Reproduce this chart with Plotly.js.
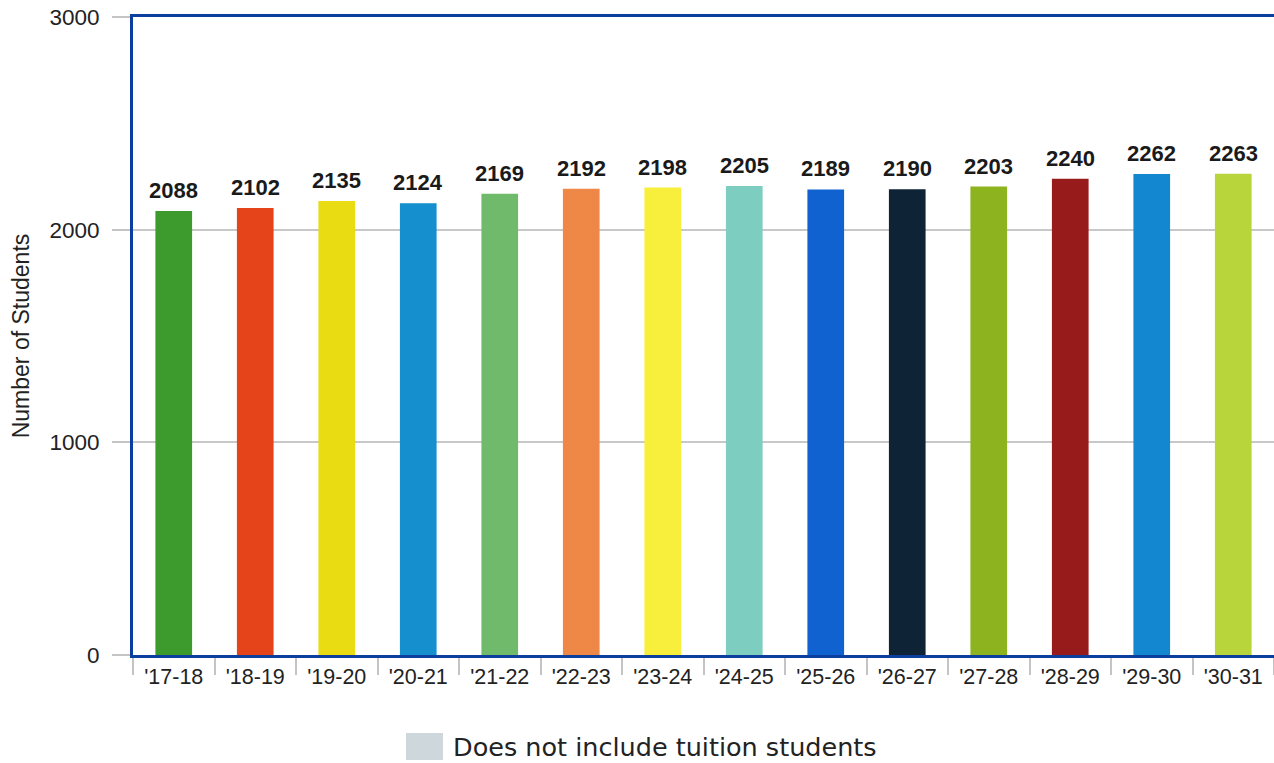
<!DOCTYPE html>
<html>
<head>
<meta charset="utf-8">
<script src="https://cdn.plot.ly/plotly-3.0.1.min.js"></script>
<style>
html,body{margin:0;padding:0;overflow:hidden;background:#fff;}
#chart{width:1274px;height:763px;}
</style>
</head>
<body>
<div id="chart"></div>
<script>
const years = ["'17-18","'18-19","'19-20","'20-21","'21-22","'22-23","'23-24","'24-25","'25-26","'26-27","'27-28","'28-29","'29-30","'30-31"];
const students = [2088,2102,2135,2124,2169,2192,2198,2205,2189,2190,2203,2240,2262,2263];
const barColors = ["#3d9a2d","#e5441b","#eadc12","#168fcf","#6fbb6b","#ef8747","#f8ef3c","#7dcdc1","#0f62cf","#0f2337","#8db41f","#971b1a","#1387cf","#b9d53c"];
const legendLabel = "Does not include tuition students";
const yTicks = [0, 1000, 2000, 3000];

const traces = [
  {
    type: 'bar',
    x: years,
    y: students,
    marker: {color: barColors},
    width: 0.45,
    showlegend: false,
    hoverinfo: 'x+y'
  }
];

const valueLabels = years.map((c, i) => ({
  x: c, y: students[i], xref: 'x', yref: 'y',
  text: String(students[i]),
  showarrow: false, yanchor: 'bottom', yshift: 6,
  font: {family: 'Liberation Sans, Arial, sans-serif', size: 22, color: '#1a1a1a', weight: 'bold'}
}));

const layout = {
  width: 1274,
  height: 763,
  margin: {l: 133, r: 0, t: 17, b: 108},
  paper_bgcolor: '#ffffff',
  plot_bgcolor: '#ffffff',
  xaxis: {
    type: 'category',
    showline: true, mirror: true, linecolor: '#0b3e9e', linewidth: 3,
    ticks: 'outside', tickson: 'boundaries', ticklen: 17, tickcolor: '#c4c4c4', tickwidth: 2,
    tickfont: {family: 'Liberation Sans, Arial, sans-serif', size: 21.5, color: '#222'},
    showgrid: false,
    fixedrange: true
  },
  yaxis: {
    range: [0, 3000],
    tickvals: yTicks,
    ticktext: yTicks.map(String),
    showline: true, mirror: false, linecolor: '#0b3e9e', linewidth: 3,
    ticks: 'outside', ticklen: 18, tickcolor: '#c4c4c4', tickwidth: 2,
    ticklabelstandoff: 8,
    showgrid: true, gridcolor: '#c8c8c8', gridwidth: 2,
    zeroline: false,
    tickfont: {family: 'Liberation Sans, Arial, sans-serif', size: 22.5, color: '#222'},
    title: {text: 'Number of Students', font: {family: 'Liberation Sans, Arial, sans-serif', size: 23, color: '#222'}, standoff: 14},
    fixedrange: true
  },
  showlegend: false,
  annotations: valueLabels.concat([
    {
      xref: 'paper', yref: 'paper', x: (451 - 133) / 1141, y: -(747 - 655) / 638,
      xanchor: 'left', yanchor: 'middle', showarrow: false,
      text: legendLabel,
      font: {family: 'DejaVu Sans, sans-serif', size: 25.5, color: '#222'}
    }
  ]),
  shapes: [
    {
      type: 'rect', xref: 'paper', yref: 'paper',
      x0: (406 - 133) / 1141, x1: (443 - 133) / 1141,
      y0: -(760 - 655) / 638, y1: -(733 - 655) / 638,
      fillcolor: '#cdd7dc', line: {width: 0}
    }
  ]
};

Plotly.newPlot('chart', traces, layout, {displayModeBar: false, staticPlot: true});
</script>
</body>
</html>
